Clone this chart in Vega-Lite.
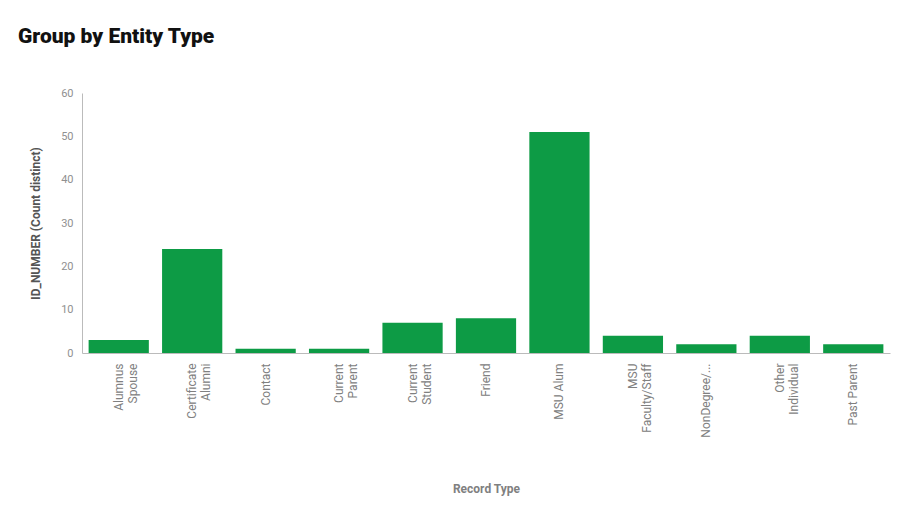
{
  "$schema": "https://vega.github.io/schema/vega-lite/v6.json",
  "autosize": "none",
  "width": 808,
  "height": 260,
  "padding": {"left": 82, "top": 93, "right": 14, "bottom": 153},
  "background": "#ffffff",
  "title": {
    "text": "Group by Entity Type",
    "anchor": "start",
    "frame": "group",
    "dx": -64,
    "offset": 40,
    "font": "Roboto",
    "fontSize": 21,
    "fontWeight": 900,
    "color": "#111111"
  },
  "data": {
    "values": [
      {"type": "Alumnus Spouse", "count": 3},
      {"type": "Certificate Alumni", "count": 24},
      {"type": "Contact", "count": 1},
      {"type": "Current Parent", "count": 1},
      {"type": "Current Student", "count": 7},
      {"type": "Friend", "count": 8},
      {"type": "MSU Alum", "count": 51},
      {"type": "MSU Faculty/Staff", "count": 4},
      {"type": "NonDegree/...", "count": 2},
      {"type": "Other Individual", "count": 4},
      {"type": "Past Parent", "count": 2}
    ]
  },
  "mark": {"type": "bar", "color": "#0d9b45"},
  "encoding": {
    "x": {
      "field": "type",
      "type": "nominal",
      "sort": null,
      "title": "Record Type",
      "scale": {"paddingInner": 0.18, "paddingOuter": 0.09},
      "axis": {
        "labelAngle": -90,
        "labelAlign": "right",
        "labelBaseline": "middle",
        "labelExpr": "indexof(datum.value, ' ') > 0 && datum.value != 'MSU Alum' && datum.value != 'Past Parent' ? [substring(datum.value, 0, indexof(datum.value, ' ')), substring(datum.value, indexof(datum.value, ' ') + 1)] : datum.value",
        "labelLineHeight": 14,
        "labelFont": "Roboto",
        "labelFontSize": 12,
        "labelColor": "#808080",
        "labelPadding": 10,
        "ticks": false,
        "domainColor": "#bbbbbb",
        "titleFont": "Roboto",
        "titleFontSize": 12,
        "titleFontWeight": "bold",
        "titleColor": "#808080",
        "titlePadding": 46
      }
    },
    "y": {
      "field": "count",
      "type": "quantitative",
      "title": "ID_NUMBER (Count distinct)",
      "scale": {"domain": [0, 60]},
      "axis": {
        "values": [0, 10, 20, 30, 40, 50, 60],
        "grid": false,
        "ticks": false,
        "domainColor": "#bbbbbb",
        "labelFont": "Roboto",
        "labelFontSize": 11,
        "labelColor": "#909090",
        "labelPadding": 9,
        "titleFont": "Roboto",
        "titleFontSize": 12,
        "titleFontWeight": "bold",
        "titleColor": "#555555",
        "titlePadding": 18
      }
    }
  },
  "config": {"view": {"stroke": null}}
}
